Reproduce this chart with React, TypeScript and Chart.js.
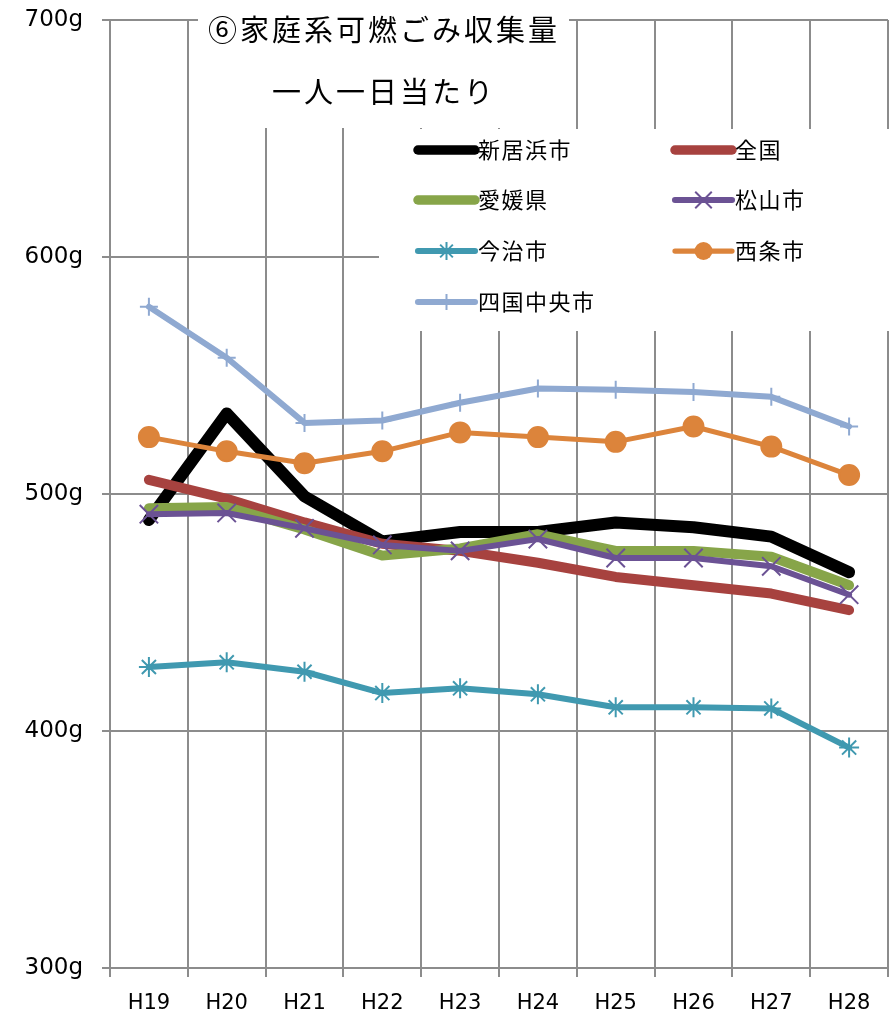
import { useEffect, useRef } from "react";
import { Chart, registerables } from "chart.js";

Chart.register(...registerables);

// 年度
const years = ["H19", "H20", "H21", "H22", "H23", "H24", "H25", "H26", "H27", "H28"];

// 家庭系可燃ごみ 一人一日当たり収集量 (g)
const niihama = [489, 534, 499, 480, 484, 484, 488, 486, 482, 467];
const zenkoku = [506, 498, 488, 479, 476, 471, 465, 461.5, 458, 451];
const ehime = [494, 494.5, 485, 474, 477, 483, 476, 476, 473.5, 461.5];
const matsuyama = [491.5, 492, 485.5, 478.5, 476, 481, 473, 473, 469.5, 457.5];
const imabari = [427, 429, 425, 416, 418, 415.5, 410, 410, 409.5, 393];
const saijo = [524, 518, 513, 518, 526, 524, 522, 528.5, 520, 508];
const shikokuchuo = [579, 557.5, 530, 531, 538.5, 544.5, 544, 543, 541, 528.5];

const yTicks = [300, 400, 500, 600, 700];

const titleLines = ["⑥家庭系可燃ごみ収集量", "一人一日当たり"];

type Marker = "none" | "crossRot" | "star" | "circle" | "cross";

interface SeriesDef {
  label: string;
  data: number[];
  color: string;
  width: number;
  marker: Marker;
  radius: number;
}

const series: SeriesDef[] = [
  { label: "新居浜市", data: niihama, color: "#000000", width: 12, marker: "none", radius: 0 },
  { label: "全国", data: zenkoku, color: "#A7423F", width: 10, marker: "none", radius: 0 },
  { label: "愛媛県", data: ehime, color: "#87A549", width: 10, marker: "none", radius: 0 },
  { label: "松山市", data: matsuyama, color: "#6B5294", width: 6, marker: "crossRot", radius: 13 },
  { label: "今治市", data: imabari, color: "#4099B0", width: 6, marker: "star", radius: 10 },
  { label: "西条市", data: saijo, color: "#DC843B", width: 5, marker: "circle", radius: 10 },
  { label: "四国中央市", data: shikokuchuo, color: "#8FA9D1", width: 6, marker: "cross", radius: 9 },
];

const GRID = "#8c8c8c";
const CJK = '"Noto Sans CJK JP", "Noto Sans", sans-serif';
const LATIN = '"DejaVu Sans", sans-serif';

function drawMarker(ctx: CanvasRenderingContext2D, m: Marker, x: number, y: number, r: number, color: string) {
  ctx.save();
  ctx.strokeStyle = color;
  ctx.fillStyle = color;
  ctx.lineWidth = 2;
  ctx.lineCap = "butt";
  const d = r * Math.SQRT1_2;
  ctx.beginPath();
  if (m === "circle") {
    ctx.arc(x, y, r, 0, Math.PI * 2);
    ctx.fill();
  } else if (m === "crossRot") {
    ctx.moveTo(x - d, y - d); ctx.lineTo(x + d, y + d);
    ctx.moveTo(x - d, y + d); ctx.lineTo(x + d, y - d);
    ctx.stroke();
  } else if (m === "star") {
    ctx.moveTo(x, y - r); ctx.lineTo(x, y + r);
    ctx.moveTo(x - d, y - d); ctx.lineTo(x + d, y + d);
    ctx.moveTo(x - d, y + d); ctx.lineTo(x + d, y - d);
    ctx.stroke();
  } else if (m === "cross") {
    ctx.moveTo(x, y - r); ctx.lineTo(x, y + r);
    ctx.moveTo(x - r, y); ctx.lineTo(x + r, y);
    ctx.stroke();
  }
  ctx.restore();
}

// White title panel and legend panel painted over the grid, beneath the lines
const panels = {
  id: "panels",
  beforeDatasetsDraw(chart: Chart) {
    const ctx = chart.ctx;
    ctx.save();
    ctx.fillStyle = "#ffffff";
    ctx.fillRect(198, 0, 371, 128);
    ctx.fillRect(379, 129, 511, 202);

    ctx.fillStyle = "#000000";
    ctx.textAlign = "center";
    ctx.textBaseline = "middle";
    ctx.font = `29px ${CJK}`;
    (ctx as any).letterSpacing = "3px";
    ctx.fillText(titleLines[0], 384, 30);
    ctx.fillText(titleLines[1], 384, 92);

    // legend, two columns
    const cols = [
      { x0: 418, x1: 475, tx: 478 },
      { x0: 675, x1: 732, tx: 735 },
    ];
    const rows = [150, 200, 251, 302];
    ctx.font = `22px ${CJK}`;
    (ctx as any).letterSpacing = "1.5px";
    ctx.textAlign = "left";
    series.forEach((s, i) => {
      const c = cols[i % 2];
      const y = rows[Math.floor(i / 2)];
      ctx.strokeStyle = s.color;
      ctx.lineWidth = Math.min(s.width, 10) * 0.85 + 1;
      ctx.lineCap = "round";
      ctx.beginPath();
      ctx.moveTo(c.x0, y);
      ctx.lineTo(c.x1, y);
      ctx.stroke();
      if (s.marker !== "none") {
        drawMarker(ctx, s.marker, (c.x0 + c.x1) / 2, y, s.radius * 0.9, s.color);
      }
      ctx.fillStyle = "#000000";
      ctx.fillText(s.label, c.tx, y);
    });
    ctx.restore();
  },
};

export default function App() {
  const ref = useRef<HTMLCanvasElement | null>(null);

  useEffect(() => {
    if (!ref.current) return;
    const chart = new Chart(ref.current, {
      type: "line",
      data: {
        labels: years,
        datasets: series.map((s, i) => ({
          label: s.label,
          data: s.data,
          borderColor: s.color,
          backgroundColor: s.color,
          borderWidth: s.width,
          borderCapStyle: "round" as const,
          borderJoinStyle: "round" as const,
          tension: 0,
          fill: false,
          pointStyle: s.marker === "none" ? false : (s.marker as any),
          pointRadius: s.radius,
          pointBorderWidth: 2,
          pointBorderColor: s.color,
          pointBackgroundColor: s.color,
          order: series.length - i,
        })),
      },
      options: {
        responsive: false,
        animation: false,
        devicePixelRatio: 1,
        layout: { autoPadding: false, padding: { top: 20, right: 2, left: 0, bottom: 0 } },
        plugins: {
          legend: { display: false },
          title: { display: false },
          tooltip: { enabled: false },
        },
        scales: {
          x: {
            offset: true,
            grid: { offset: true, color: GRID, lineWidth: 2, tickLength: 9, drawTicks: true },
            border: { color: GRID, width: 2 },
            ticks: {
              color: "#000",
              font: { family: LATIN, size: 21 },
              padding: 14,
              maxRotation: 0,
              autoSkip: false,
            },
            afterFit: (scale: any) => {
              scale.height = 53;
              scale.paddingLeft = 0;
              scale.paddingRight = 0;
            },
          },
          y: {
            min: yTicks[0],
            max: yTicks[yTicks.length - 1],
            afterBuildTicks: (scale: any) => {
              scale.ticks = yTicks.map((v) => ({ value: v }));
            },
            grid: { color: GRID, lineWidth: 2, tickLength: 8, drawTicks: true },
            border: { color: GRID, width: 2 },
            ticks: {
              color: "#000",
              font: { family: LATIN, size: 23 },
              padding: 19,
              callback: (v: any) => `${v}g`,
            },
            afterFit: (scale: any) => {
              scale.width = 110;
              scale.paddingTop = 0;
              scale.paddingBottom = 0;
            },
          },
        },
      },
      plugins: [panels],
    });
    return () => chart.destroy();
  }, []);

  return (
    <div style={{ position: "absolute", left: 0, top: 0, width: 890, height: 1021, background: "#fff" }}>
      <canvas ref={ref} width={890} height={1021} />
    </div>
  );
}
